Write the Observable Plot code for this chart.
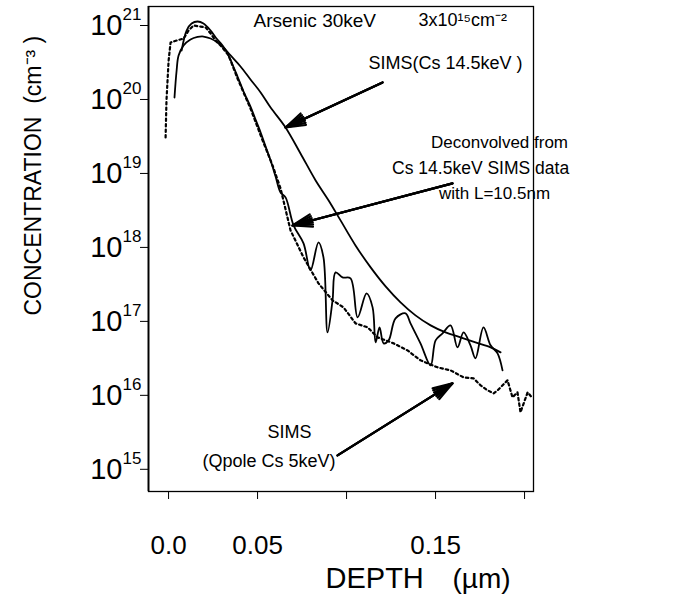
<!DOCTYPE html>
<html><head><meta charset="utf-8">
<script src="https://cdn.jsdelivr.net/npm/d3@7"></script>
<script src="https://cdn.jsdelivr.net/npm/@observablehq/plot@0.6"></script>
<style>body{margin:0;background:#fff}</style>
</head><body><div id="chart"></div>
<script>
// SIMS (Cs 14.5 keV) — smooth solid curve; depth in µm, log10 concentration (cm^-3)
const simsHiDepth = [0.0067,0.0079,0.0090,0.0118,0.0157,0.0197,0.0230,0.0270,0.0309,0.0337,0.0382,0.0438,0.0494,0.0551,0.0607,0.0691,0.0775,0.0860,0.0933,0.1000,0.1084,0.1169,0.1253,0.1337,0.1421,0.1506,0.1590,0.1674,0.1758,0.1843,0.1899];
const simsHiLog = [20.027,20.392,20.595,20.730,20.811,20.845,20.851,20.824,20.770,20.716,20.595,20.446,20.270,20.095,19.892,19.622,19.270,18.905,18.635,18.365,18.027,17.730,17.473,17.257,17.081,16.946,16.851,16.784,16.716,16.649,16.581];

// Deconvolved from Cs 14.5 keV SIMS data (L = 10.5 nm) — jagged solid curve
const deconvDepth = [0.0107,0.0135,0.0163,0.0197,0.0230,0.0270,0.0303,0.0337,0.0365,0.0393,0.0421,0.0455,0.0494,0.0522,0.0551,0.0579,0.0607,0.0635,0.0663,0.0691,0.0736,0.0792,0.0831,0.0876,0.0904,0.0927,0.0955,0.0972,0.1011,0.1056,0.1096,0.1146,0.1180,0.1197,0.1219,0.1242,0.1270,0.1309,0.1365,0.1393,0.1449,0.1506,0.1534,0.1573,0.1618,0.1657,0.1691,0.1730,0.1758,0.1803,0.1843,0.1882,0.1910];
const deconvLog = [20.662,20.932,21.027,21.054,21.027,20.932,20.824,20.730,20.622,20.473,20.311,20.108,19.905,19.730,19.554,19.365,19.176,18.959,18.743,18.676,18.297,18.054,17.689,18.068,17.865,16.851,17.284,17.662,17.595,17.581,17.054,17.378,17.189,16.716,16.919,16.703,16.743,17.041,17.108,16.973,16.703,16.405,16.743,16.838,16.946,16.649,16.851,16.676,16.500,16.919,16.676,16.568,16.338];

// SIMS (Qpole Cs 5 keV) — dotted curve
const simsLoDepth = [0.0017,0.0022,0.0034,0.0045,0.0079,0.0118,0.0146,0.0174,0.0213,0.0242,0.0270,0.0298,0.0326,0.0371,0.0421,0.0494,0.0562,0.0618,0.0663,0.0719,0.0792,0.0876,0.0955,0.1017,0.1084,0.1152,0.1208,0.1298,0.1376,0.1449,0.1545,0.1618,0.1691,0.1747,0.1787,0.1826,0.1860,0.1882,0.1899,0.1938,0.1966,0.1994,0.2011,0.2051,0.2079];
const simsLoLog = [19.486,19.986,20.527,20.770,20.797,20.824,20.932,21.000,20.986,20.973,20.892,20.797,20.730,20.595,20.284,19.878,19.446,19.108,18.797,18.230,17.865,17.514,17.284,17.189,16.973,16.919,16.784,16.703,16.608,16.473,16.378,16.338,16.243,16.230,16.135,16.068,16.027,16.068,16.108,16.203,15.973,16.041,15.770,16.041,15.959];

// axes
const yTickExponents = [15,16,17,18,19,20,21];
const xTicks = [0, 0.05, 0.10, 0.15, 0.20];
const xTickLabels = ["0.0", "0.05", "", "0.15", ""];

// annotations (data coordinates: depth µm, log10 concentration)
const noteText   = ["Arsenic 30keV", "3x10\u00B9\u2075cm\u207B\u00B2", "SIMS(Cs 14.5keV )", "Deconvolved from", "Cs 14.5keV SIMS data", "with L=10.5nm", "SIMS", "(Qpole Cs 5keV)"];
const noteDepth  = [0.0511, 0.1438, 0.1157, 0.1893, 0.1787, 0.1865, 0.0713, 0.0972];
const noteLog    = [21.068, 21.068, 20.486, 19.419, 19.068, 18.730, 15.500, 15.108];
const noteAnchor = ["start", "start", "start", "middle", "middle", "middle", "middle", "end"];
const noteSize   = [19, 18, 18, 17, 17.5, 17, 18, 18];

const arrowX1 = [0.1236, 0.1629, 0.0983];
const arrowY1 = [20.230, 18.865, 15.189];
const arrowX2 = [0.0691, 0.0730, 0.1629];
const arrowY2 = [19.622, 18.297, 16.162];

const series = (depth, logc) => depth.map((d, i) => ({depth: d, conc: Math.pow(10, logc[i])}));
const notes = noteText.map((t, i) => ({text: t, depth: noteDepth[i], conc: Math.pow(10, noteLog[i]), anchor: noteAnchor[i], size: noteSize[i]}));
const arrows = arrowX1.map((x, i) => ({x1: x, y1: Math.pow(10, arrowY1[i]), x2: arrowX2[i], y2: Math.pow(10, arrowY2[i])}));
const yTicks = yTickExponents.map(e => Math.pow(10, e));

const font = "'Liberation Sans', Arial, Helvetica, sans-serif";
const noteMark = anchor => Plot.text(notes.filter(d => d.anchor === anchor),
  {x: "depth", y: "conc", text: "text", fontSize: "size", textAnchor: anchor, fill: "black"});
const arrowMark = angle => Plot.arrow(arrows,
  {x1: "x1", y1: "y1", x2: "x2", y2: "y2", stroke: "black", strokeWidth: 2.2, headLength: 14, headAngle: angle});

const chart = Plot.plot({
  width: 678,
  height: 596,
  marginLeft: 148,
  marginRight: 145,
  marginTop: 6,
  marginBottom: 105,
  style: {fontFamily: font, background: "white", color: "black", overflow: "visible"},
  x: {domain: [-0.0079, 0.2084]},
  y: {type: "log", domain: [Math.pow(10, 14.70), Math.pow(10, 21.257)]},
  marks: [
    Plot.frame({stroke: "black", strokeWidth: 1.3}),
    Plot.ruleX([-0.0079], {stroke: "black", strokeWidth: 1.8}),
    Plot.axisX({ticks: xTicks, tickSize: 8, tickPadding: 36, fontSize: 26, dx: 6,
      tickFormat: d => xTickLabels[xTicks.findIndex(t => Math.abs(t - d) < 1e-9)], label: null}),
    Plot.axisY({ticks: yTicks, tickSize: 8, tickFormat: () => "", label: null}),
    Plot.text(yTicks, {y: d => d, frameAnchor: "left", text: () => "10", textAnchor: "end", dx: -26, fontSize: 29}),
    Plot.text(yTicks, {y: d => d, frameAnchor: "left", text: d => String(Math.round(Math.log10(d))), textAnchor: "start", dx: -26, dy: -11, fontSize: 17}),
    Plot.text(["CONCENTRATION  (cm\u207B\u00B3 )"], {frameAnchor: "top-left", text: d => d, rotate: -90, textAnchor: "start", lineAnchor: "bottom", dx: -108, dy: 309, fontSize: 23}),
    Plot.text(["DEPTH"], {frameAnchor: "bottom-left", text: d => d, textAnchor: "start", lineAnchor: "bottom", dx: 177, dy: 96, fontSize: 29}),
    Plot.text(["(\u00B5m)"], {frameAnchor: "bottom-left", text: d => d, textAnchor: "start", lineAnchor: "bottom", dx: 304, dy: 96, fontSize: 28}),
    Plot.line(series(simsLoDepth, simsLoLog), {x: "depth", y: "conc", stroke: "black", strokeWidth: 2.2, strokeDasharray: "2.5,3"}),
    Plot.line(series(simsHiDepth, simsHiLog), {x: "depth", y: "conc", stroke: "black", strokeWidth: 1.8, curve: "catmull-rom"}),
    Plot.line(series(deconvDepth, deconvLog), {x: "depth", y: "conc", stroke: "black", strokeWidth: 1.8, curve: "catmull-rom"}),
    arrowMark(36), arrowMark(24), arrowMark(12),
    noteMark("start"), noteMark("middle"), noteMark("end")
  ]
});
document.getElementById("chart").appendChild(chart);
</script>
</body></html>
